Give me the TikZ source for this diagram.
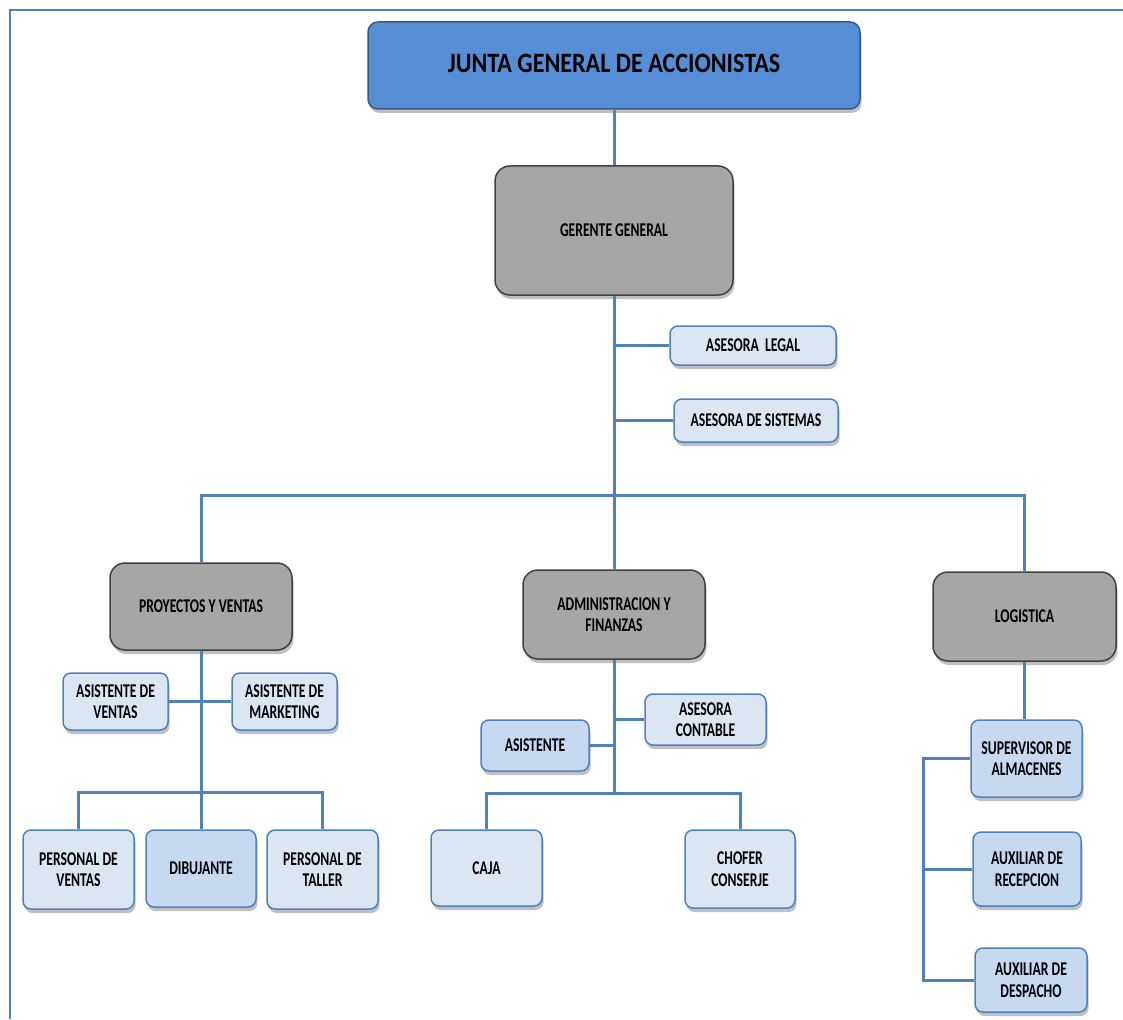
\documentclass[tikz,border=0pt]{standalone}
\usepackage{fontspec}
\setmainfont{Carlito}[FakeStretch=0.7]
\newfontfamily\titlefont{Carlito}[FakeStretch=0.86]
\usetikzlibrary{shadows}
\definecolor{titlefill}{RGB}{85,142,213}
\definecolor{titleedge}{RGB}{56,88,135}
\definecolor{grayfill}{RGB}{166,166,166}
\definecolor{grayedge}{RGB}{64,64,64}
\definecolor{lightfill}{RGB}{220,230,242}
\definecolor{midfill}{RGB}{198,217,241}
\definecolor{linkblue}{RGB}{79,129,189}
\begin{document}
\begin{tikzpicture}[x=1pt,y=-1pt,
  boxshadow/.style={drop shadow={shadow xshift=1.5pt,shadow yshift=-4pt,opacity=.35,fill=black!70}},
  basebox/.style={draw,line width=1.5pt,align=center,inner sep=0pt,boxshadow,
    font=\bfseries\fontsize{19.5}{21.5}\selectfont},
  topbox/.style={basebox,fill=titlefill,draw=titleedge,rounded corners=10pt,
    font=\titlefont\bfseries\fontsize{28}{32}\selectfont},
  headbox/.style={basebox,fill=grayfill,draw=grayedge,rounded corners=15pt},
  unitbox/.style={basebox,fill=lightfill,draw=linkblue,rounded corners=8pt},
  unitboxb/.style={basebox,fill=midfill,draw=linkblue,rounded corners=8pt},
  link/.style={draw=linkblue,line width=3pt},
  frameline/.style={draw=linkblue,line width=1.5pt}]
\useasboundingbox (0,0) rectangle (1123,1019);
\path[fill=white] (0,0) rectangle (1123,1019);
\draw[frameline] (10,1019) -- (10,10) -- (1123,10);

% top levels
\node[topbox,minimum width=492pt,minimum height=87pt] (title) at (614,65.5) {\raisebox{4pt}{JUNTA GENERAL DE ACCIONISTAS}};
\node[headbox,minimum width=238pt,minimum height=129pt] (gg) at (614,230.5) {GERENTE GENERAL};
\node[unitbox,minimum width=166pt,minimum height=39pt] (legal) at (753,345.5) {ASESORA\ \ LEGAL};
\node[unitbox,minimum width=164pt,minimum height=43pt] (sist) at (756,420.5) {ASESORA DE SISTEMAS};

% departments
\node[headbox,minimum width=182pt,minimum height=87pt] (pv) at (201,606.5) {PROYECTOS Y VENTAS};
\node[headbox,minimum width=182pt,minimum height=89pt] (af) at (614,614.5) {ADMINISTRACION Y\\FINANZAS};
\node[headbox,minimum width=183pt,minimum height=89pt] (log) at (1024.5,616.5) {LOGISTICA};

% proyectos y ventas
\node[unitbox,minimum width=105pt,minimum height=57pt] (av) at (115.5,701.5) {ASISTENTE DE\\VENTAS};
\node[unitbox,minimum width=105pt,minimum height=57pt] (am) at (284.5,701.5) {ASISTENTE DE\\MARKETING};
\node[unitbox,minimum width=111pt,minimum height=79pt] (perv) at (78.5,869.5) {PERSONAL DE\\VENTAS};
\node[unitboxb,minimum width=110pt,minimum height=77pt] (dib) at (201,868.5) {DIBUJANTE};
\node[unitbox,minimum width=111pt,minimum height=79pt] (pert) at (322.5,869.5) {PERSONAL DE\\TALLER};

% administracion y finanzas
\node[unitbox,minimum width=121pt,minimum height=51pt] (ac) at (705.5,719.5) {ASESORA\\CONTABLE};
\node[unitboxb,minimum width=108pt,minimum height=51pt] (asis) at (535,745.5) {ASISTENTE};
\node[unitbox,minimum width=111pt,minimum height=76pt] (caja) at (486.5,868) {CAJA};
\node[unitbox,minimum width=110pt,minimum height=78pt] (chof) at (740,869) {CHOFER\\CONSERJE};

% logistica
\node[unitboxb,minimum width=111pt,minimum height=77pt] (sup) at (1026.5,758.5) {SUPERVISOR DE\\ALMACENES};
\node[unitboxb,minimum width=108pt,minimum height=74pt] (rec) at (1027,869) {AUXILIAR DE\\RECEPCION};
\node[unitboxb,minimum width=112pt,minimum height=64pt] (desp) at (1031,980) {AUXILIAR DE\\DESPACHO};

% junction points
\coordinate (busM) at (614,495);
\coordinate (pvbus) at (201,792);
\coordinate (afbus) at (614,793);
\coordinate (lgbus) at (923,757);

% connectors
\draw[link] (title.south) -- (gg.north);
\draw[link] (gg.south) -- (busM);
\draw[link] (legal.west) -- (legal.west -| busM);
\draw[link] (sist.west) -- (sist.west -| busM);
\draw[link] (pv.north) |- (busM) -| (log.north);
\draw[link] (busM) -- (af.north);

\draw[link] (pv.south) -- (dib.north);
\draw[link] (av.east) -- (am.west);
\draw[link] (perv.north) |- (pvbus) -| (pert.north);

\draw[link] (af.south) -- (afbus);
\draw[link] (ac.west) -- (ac.west -| afbus);
\draw[link] (asis.east) -- (asis.east -| afbus);
\draw[link] (caja.north) |- (afbus) -| (chof.north);

\draw[link] (log.south) -- (log.south |- sup.north);
\draw[link] (sup.west) -- (sup.west -| lgbus) -- (lgbus |- desp.west) -- (desp.west);
\draw[link] (rec.west) -- (rec.west -| lgbus);
\end{tikzpicture}
\end{document}
